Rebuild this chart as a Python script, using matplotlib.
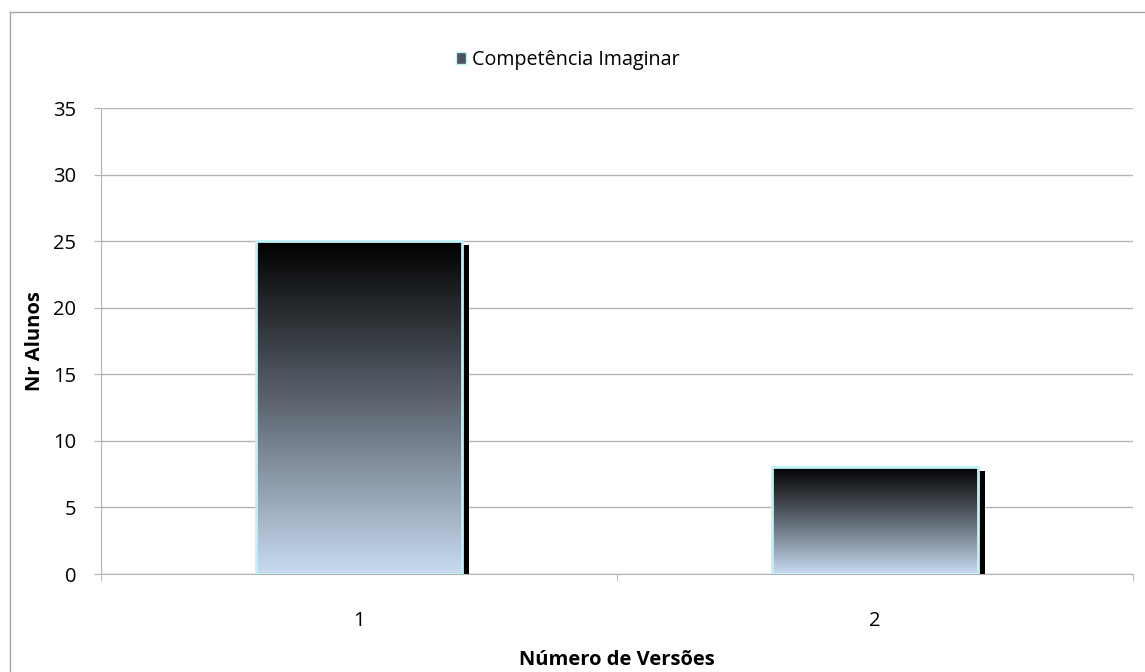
import numpy as np
import matplotlib.pyplot as plt
import matplotlib.transforms as mtransforms
from matplotlib.colors import LinearSegmentedColormap
from matplotlib.lines import Line2D
from matplotlib.patches import Rectangle

plt.rcParams['font.family'] = ['Open Sans', 'DejaVu Sans']

# Data
categories = ['1', '2']
alunos = [25, 8]
series_name = 'Competência Imaginar'

grad = LinearSegmentedColormap.from_list('bar_grad', ['#000000', '#5f6873', '#c8dbf1'])
grid_col = '#b3b3b3'

fig = plt.figure(figsize=(11.45, 6.72), dpi=100)
ax = fig.add_axes([101 / 1145, 1 - 574 / 672, 1032 / 1145, 466 / 672])

x = np.arange(len(categories))
width = 0.4

# drop shadow behind each bar
shadow = mtransforms.offset_copy(ax.transData, fig=fig, x=7, y=-4, units='dots')
ax.bar(x, alunos, width, color='black', transform=shadow, zorder=2)

# bars: outline only, gradient fill clipped to each one
bars = ax.bar(x, alunos, width, facecolor='none', edgecolor='#bdf2f7', linewidth=2, zorder=4)
ramp = np.linspace(1, 0, 256).reshape(-1, 1)
for b in bars:
    x0, y0 = b.get_x(), b.get_y()
    w, h = b.get_width(), b.get_height()
    im = ax.imshow(ramp, cmap=grad, aspect='auto', extent=[x0, x0 + w, y0, y0 + h],
                   origin='lower', zorder=3)
    im.set_clip_path(b)

ax.set_xlim(-0.5, len(categories) - 0.5)
ax.set_ylim(0, 35)
ax.set_yticks(range(0, 36, 5))
ax.yaxis.grid(True, color=grid_col, linewidth=1)
ax.set_axisbelow(True)

# category labels centred, tick marks on the boundaries
ax.set_xticks(x)
ax.set_xticklabels(categories)
ax.set_xticks(np.arange(len(categories) + 1) - 0.5, minor=True)
ax.tick_params(axis='x', which='major', length=0, pad=27, labelsize=14.5)
ax.tick_params(axis='x', which='minor', length=5, color=grid_col, direction='out')
ax.tick_params(axis='y', length=5, color=grid_col, labelsize=14.5, pad=13)

for side in ['top', 'right']:
    ax.spines[side].set_visible(False)
for side in ['left', 'bottom']:
    ax.spines[side].set_color(grid_col)

ax.set_xlabel('Número de Versões', fontsize=14.5, fontweight='bold')
ax.xaxis.set_label_coords(0.5, -0.163)
ax.set_ylabel('Nr Alunos', fontsize=14.5, fontweight='bold')
ax.yaxis.set_label_coords(-0.054, 0.5)

# legend with a small gradient swatch
handle = Rectangle((0, 0), 1, 1, facecolor='#4a525c', edgecolor='#bdf2f7', linewidth=1)
ax.legend([handle], [series_name], loc='center', bbox_to_anchor=(0.452, 1.103),
          frameon=False, fontsize=14.2, handlelength=0.5, handleheight=0.5, handletextpad=0.3)

# chart area frame
fig.add_artist(Line2D([10 / 1145, 10 / 1145], [0, 1 - 12 / 672], color='#a6a6a6', linewidth=1,
                      transform=fig.transFigure))
fig.add_artist(Line2D([10 / 1145, 1], [1 - 12 / 672, 1 - 12 / 672], color='#a6a6a6', linewidth=1,
                      transform=fig.transFigure))

fig.savefig('out.png', dpi=100)
